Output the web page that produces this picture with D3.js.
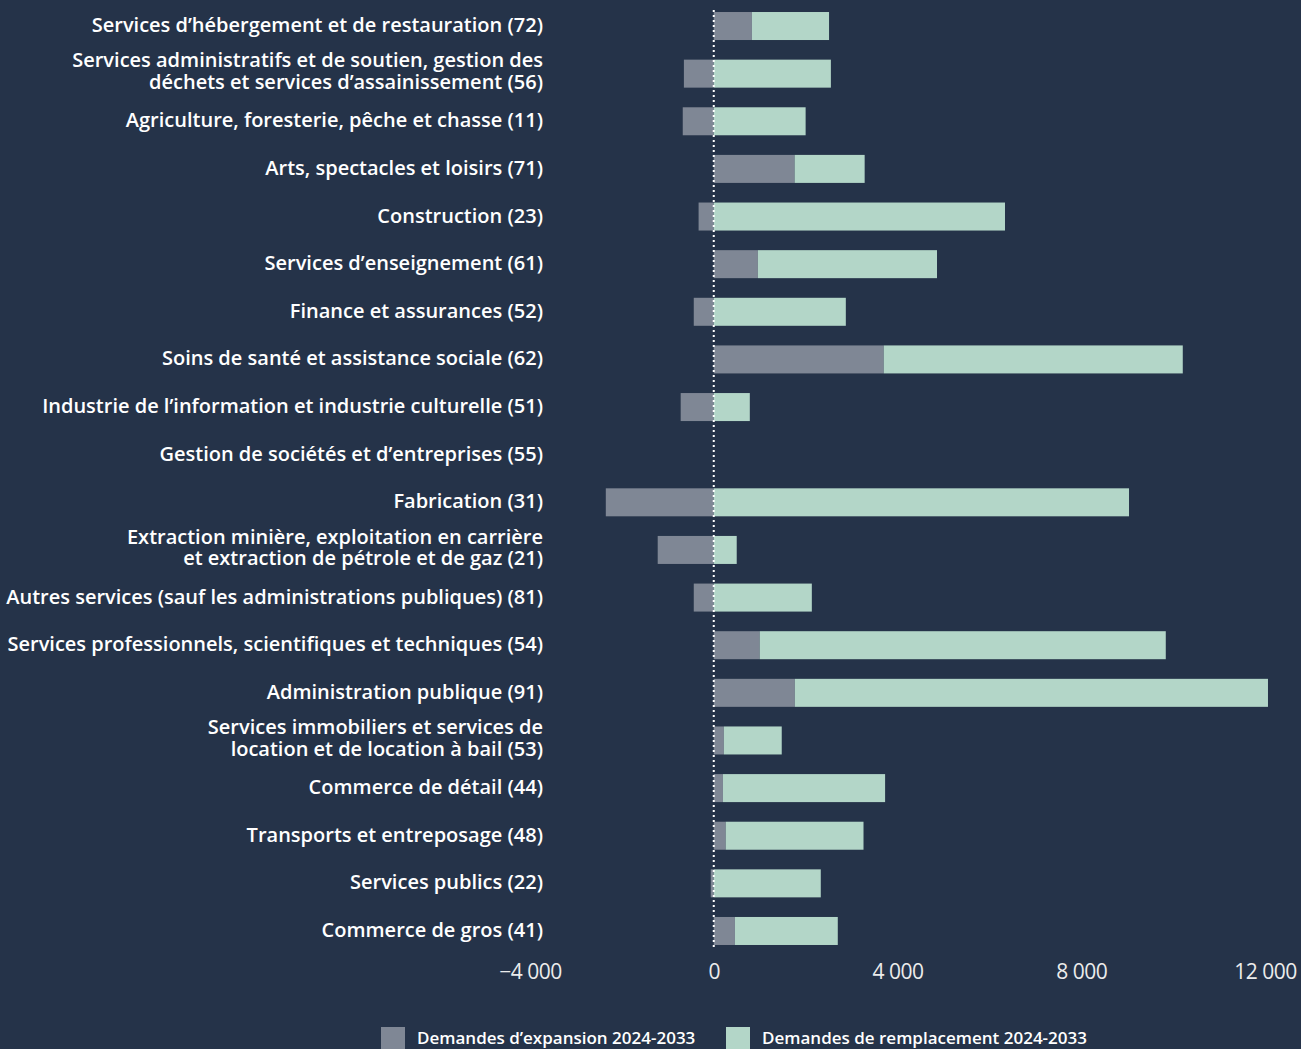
<!DOCTYPE html>
<html lang="fr">
  <head>
    <meta charset="utf-8">
    <title>Demandes d'emploi par secteur</title>
    <script src="https://cdn.jsdelivr.net/npm/d3@7"></script>
    <style>
      html, body { margin: 0; padding: 0; background: #253349; }
      svg { display: block; }
    </style>
  </head>
  <body>
    <div id="chart"></div>
    <script type="text/javascript">
      // categories (label lines, top to bottom)
      const categories = [
        ['Services d\u2019hébergement et de restauration (72)'],
        ['Services administratifs et de soutien, gestion des', 'déchets et services d\u2019assainissement  (56)'],
        ['Agriculture, foresterie, pêche et chasse (11)'],
        ['Arts, spectacles et loisirs (71)'],
        ['Construction (23)'],
        ['Services d\u2019enseignement (61)'],
        ['Finance et assurances (52)'],
        ['Soins de santé et assistance sociale (62)'],
        ['Industrie de l\u2019information et industrie culturelle (51)'],
        ['Gestion de sociétés et d\u2019entreprises (55)'],
        ['Fabrication (31)'],
        ['Extraction minière, exploitation en carrière', 'et extraction de pétrole et de gaz (21)'],
        ['Autres services (sauf les administrations publiques) (81)'],
        ['Services professionnels, scientifiques et techniques (54)'],
        ['Administration publique (91)'],
        ['Services immobiliers et services de', 'location et de location à bail (53)'],
        ['Commerce de détail (44)'],
        ['Transports et entreposage (48)'],
        ['Services publics (22)'],
        ['Commerce de gros (41)']
      ]
      const expansion = [830, -650, -675, 1760, -330, 960, -435, 3700, -720, 0,
                         -2350, -1220, -435, 1000, 1765, 220, 200, 260, -65, 460]
      const replacement = [1680, 2550, 2000, 1525, 6340, 3900, 2875, 6510, 785, 0,
                           9040, 500, 2135, 8840, 10300, 1260, 3530, 3000, 2330, 2240]
      const series = ['Demandes d\u2019expansion 2024-2033', 'Demandes de remplacement 2024-2033']
      const ticks = [-4000, 0, 4000, 8000, 12000]

      const colors = ['#7f8795', '#b3d6c8']
      const width = 1301, height = 1049

      const svg = d3.select('#chart').append('svg')
        .attr('width', width)
        .attr('height', height)

      const rows = categories.map((c, i) => ({ i: i, expansion: expansion[i], replacement: replacement[i] }))

      const stack = d3.stack()
        .keys(['expansion', 'replacement'])
        .offset(d3.stackOffsetDiverging)
      const stacked = stack(rows)

      const scale_x = d3.scaleLinear()
        .domain([-4000, 12000])
        .range([530, 1265])

      const scale_y = d3.scaleBand()
        .domain(d3.range(categories.length))
        .range([2.2, 954.8])
        .paddingInner(0.412)
        .paddingOuter(0.206)

      // bars
      svg.append('g')
        .selectAll('g')
        .data(stacked)
        .join('g')
        .attr('fill', (d, i) => colors[i])
        .selectAll('rect')
        .data(d => d)
        .join('rect')
        .attr('x', d => scale_x(Math.min(d[0], d[1])))
        .attr('width', d => Math.abs(scale_x(d[1]) - scale_x(d[0])))
        .attr('y', d => scale_y(d.data.i))
        .attr('height', scale_y.bandwidth())

      // zero line
      svg.append('line')
        .attr('x1', scale_x(0)).attr('x2', scale_x(0))
        .attr('y1', 10).attr('y2', 947)
        .attr('stroke', '#ffffff')
        .attr('stroke-width', 2)
        .attr('stroke-dasharray', '2,3')

      // category labels
      const labels = svg.append('g')
        .attr('font-family', 'Open Sans, Noto Sans, sans-serif')
        .attr('font-weight', 600)
        .attr('font-size', '20px')
        .attr('fill', '#ffffff')
        .attr('text-anchor', 'end')

      labels.selectAll('text')
        .data(categories)
        .join('text')
        .attr('x', 543)
        .attr('y', (d, i) => scale_y(i) + scale_y.bandwidth() / 2)
        .each(function (lines) {
          const t = d3.select(this)
          const lh = 21.5
          lines.forEach((line, k) => {
            t.append('tspan')
              .attr('x', 543)
              .attr('dy', k === 0 ? (-(lines.length - 1) * lh / 2 + (lines.length > 1 ? 4.5 : 6)) : lh)
              .text(line)
          })
        })

      // x axis
      const x_axis = d3.axisBottom(scale_x)
        .tickValues(ticks)
        .tickSize(0)
        .tickPadding(0)
        .tickFormat(d => d3.format(',')(d).replace(/,/g, ' ').replace('-', '\u2013'))
      const axis_g = svg.append('g')
        .attr('transform', 'translate(0,964)')
        .call(x_axis)
      axis_g.select('.domain').remove()
      axis_g.selectAll('text')
        .attr('font-family', 'Open Sans, Noto Sans, sans-serif')
        .attr('font-size', '21px')
        .attr('font-weight', 500)
        .attr('letter-spacing', '-0.5px')
        .attr('fill', '#ececec')

      // legend
      const legend_x = [381, 726]
      const legend = svg.append('g')
        .selectAll('g')
        .data(series)
        .join('g')
        .attr('transform', (d, i) => 'translate(' + legend_x[i] + ',1027)')
      legend.append('rect')
        .attr('width', 24).attr('height', 24)
        .attr('fill', (d, i) => colors[i])
      legend.append('text')
        .attr('x', 36)
        .attr('y', 17)
        .attr('font-family', 'Open Sans, Noto Sans, sans-serif')
        .attr('font-size', '17px')
        .attr('font-weight', 600)
        .attr('fill', '#ffffff')
        .text(d => d)
    </script>
  </body>
</html>
